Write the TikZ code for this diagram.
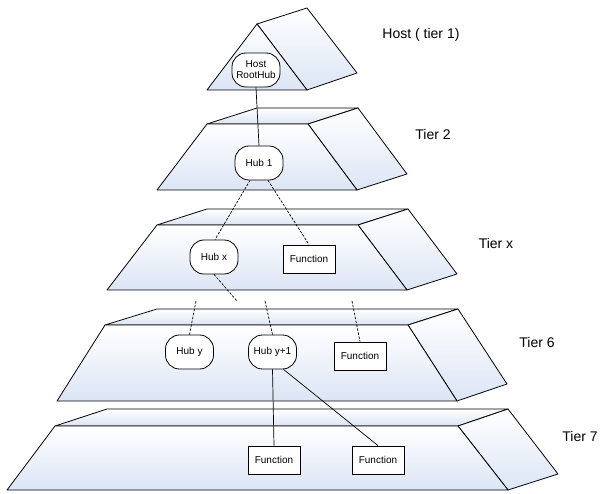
\documentclass[tikz,border=0pt]{standalone}
\usepackage{fontspec}
\setmainfont{Liberation Sans}
\definecolor{tierblue}{RGB}{220,229,245}
\tikzset{
  face/.style={draw, line width=0.8pt, top color=white, bottom color=tierblue, line join=round},
  hub/.style={draw, line width=0.8pt, fill=white, rounded corners=14pt, minimum width=48pt,
    minimum height=34pt, align=center, inner sep=1pt, font=\fontsize{10}{11}\selectfont},
  func/.style={draw, line width=0.8pt, fill=white, minimum width=52pt, minimum height=28pt,
    inner sep=1pt, font=\fontsize{10}{12}\selectfont},
  link/.style={line width=0.7pt},
  dlink/.style={line width=0.7pt, dash pattern=on 2.5pt off 1.5pt},
  tierlabel/.style={font=\fontsize{14}{16}\selectfont}
}
\begin{document}
\begin{tikzpicture}[x=1pt,y=-1pt]
\useasboundingbox (0,0) rectangle (603,494);

% Host (tier 1)
\draw[face] (257,24) -- (307,8) -- (357,73) -- (307,90) -- cycle;
\draw[face] (207,90) -- (257,24) -- (307,90) -- cycle;

% Tier 2
\draw[face] (207,124) -- (257,108) -- (358,108) -- (308,124) -- cycle;
\draw[face] (308,124) -- (358,108) -- (407,174) -- (357,190) -- cycle;
\draw[face] (207,124) -- (308,124) -- (357,190) -- (157,190) -- cycle;

% Tier x
\draw[face] (157,225) -- (207,209) -- (408,209) -- (358,225) -- cycle;
\draw[face] (358,225) -- (408,209) -- (457,274) -- (407,290) -- cycle;
\draw[face] (157,225) -- (358,225) -- (407,290) -- (107,290) -- cycle;

% Tier 6
\draw[face] (105,325) -- (157,309) -- (458,309) -- (408,325) -- cycle;
\draw[face] (408,325) -- (458,309) -- (507,384) -- (457,401) -- cycle;
\draw[face] (105,325) -- (408,325) -- (457,401) -- (57,401) -- cycle;

% Tier 7
\draw[face] (55,426) -- (107,409) -- (508,409) -- (458,426) -- cycle;
\draw[face] (458,426) -- (508,409) -- (558,474) -- (508,490) -- cycle;
\draw[face] (55,426) -- (458,426) -- (508,490) -- (7,490) -- cycle;

% nodes
\node[hub] (rh) at (256,70) {Host\\RootHub};
\node[hub] (h1) at (259,163) {Hub 1};
\node[hub] (hx) at (214,257) {Hub x};
\node[func] (fx) at (309,259) {Function};
\node[hub] (hy) at (189.5,352) {Hub y};
\node[hub] (hy1) at (272.5,352) {Hub y+1};
\node[func] (f6) at (360,356) {Function};
\node[func] (f7a) at (274,460) {Function};
\node[func] (f7b) at (378,460) {Function};

\coordinate (gx) at (237,301);
\coordinate (gy) at (196,301);
\coordinate (gy1) at (265,301);
\coordinate (gf) at (352,301);

% links
\draw[link] (rh.south) -- (h1.north);
\draw[dlink] ([xshift=-9pt]h1.south) -- ([xshift=1pt]hx.north);
\draw[dlink] ([xshift=9pt]h1.south) -- (fx.north);
\draw[dlink] (hx.south) -- (gx);
\draw[dlink] (gy) -- (hy.north);
\draw[dlink] (gy1) -- (hy1.north);
\draw[dlink] (gf) -- (f6.north);
\draw[link] (hy1.south) -- (f7a.north);
\draw[link] ([xshift=11pt]hy1.south) -- (f7b.north);

% tier labels
\node[tierlabel] (l1) at (421,35) {Host ( tier 1)};
\node[tierlabel] (l2) at (433,134) {Tier 2};
\node[tierlabel] (lx) at (496,243) {Tier x};
\node[tierlabel] (l6) at (537,342) {Tier 6};
\node[tierlabel] (l7) at (580,436) {Tier 7};
\end{tikzpicture}
\end{document}
